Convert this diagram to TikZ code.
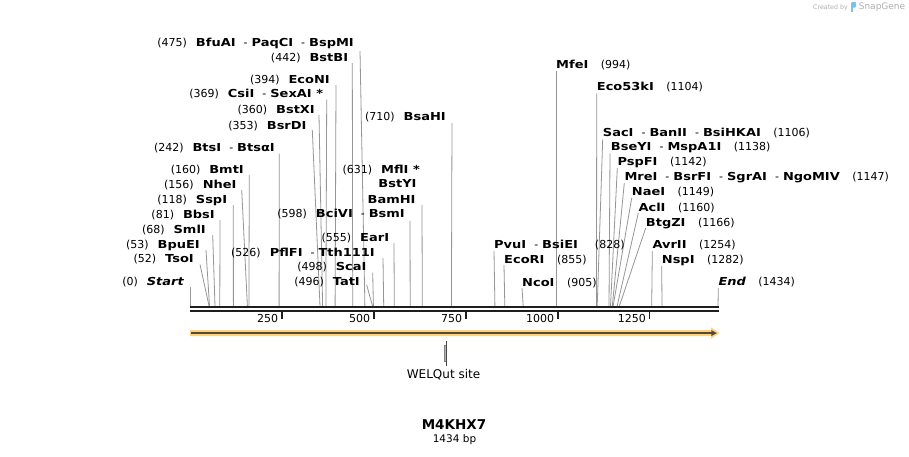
\documentclass[tikz,border=0pt]{standalone}
\usepackage{fontspec}
\setmainfont{DejaVu Sans}
\newfontfamily\bnmfont{DejaVu Sans}[FakeStretch=1.18]
\usetikzlibrary{arrows.meta}
\definecolor{cutgray}{RGB}{150,150,150}
\definecolor{seqblack}{RGB}{30,30,30}
\definecolor{orfglow}{RGB}{255,210,125}
\definecolor{orfdark}{RGB}{85,72,55}
\definecolor{welqfill}{RGB}{214,160,200}
\definecolor{welqline}{RGB}{70,70,70}
\definecolor{markgray}{RGB}{175,175,175}
\definecolor{logoblue}{RGB}{125,192,238}
\newcommand{\nm}[1]{{\bnmfont\bfseries #1}}
\newcommand{\dsep}{\hspace{8pt}-\hspace{4pt}}
\newcommand{\gapL}{\hspace{9pt}}
\newcommand{\gapR}{\hspace{12.5pt}}
\begin{document}
\begin{tikzpicture}[x=1pt,y=-1pt,
  lbl/.style={inner sep=0pt,font=\fontsize{11}{13}\selectfont},
  lblL/.style={lbl,anchor=base east},
  lblR/.style={lbl,anchor=base west},
  cut/.style={draw=cutgray,line width=0.8pt}]
\fill[white] (0,0) rectangle (909,456);
\useasboundingbox (0,0) rectangle (909,456);

% cut-site connectors
\foreach \n/\tx/\ty/\sx in {475/360/51/364.9, 442/352.3/63/352.7, 394/336/85/335.1,
  369/326.7/99.5/325.9, 360/319/115/322.6, 353/312.3/130/320.0, 242/279.3/153.5/279.1,
  160/249.3/175/248.9, 156/241.7/190/247.4, 118/233.3/205/233.4, 81/220/220/219.8,
  68/212.7/235/215.0, 53/206/250/209.5, 52/200/264.5/209.1, 0/190/287/190,
  526/383/258/383.7, 598/410/220.5/410.2, 555/394/243/394.3, 498/372.7/272.5/373.4,
  496/366.7/285/372.6, 631/422/205/422.3, 710/452/123/451.4,
  994/556/70.5/556, 1104/596.7/93.3/596.5, 1106/602.7/139.3/597.2, 1138/610/153.3/609.0,
  1142/617.3/168/610.5, 1147/624.3/183/612.3, 1149/631.7/198/613.1, 1160/638.3/213/617.1,
  1166/645.7/228/619.3, 1254/652.3/251/651.7, 1282/661.7/266/662.0, 1434/718.3/288/718,
  828/494/251/494.9, 855/504/265/504.8, 905/522/288/523.2}{
  \coordinate (t\n) at (\tx,\ty);
  \coordinate (s\n) at (\sx,306.2);
  \draw[cut] (t\n) -- (s\n);
}

% left-hand labels
\node[lblL] (l475) at (354,46.3) {(475)\gapL\nm{BfuAI}\dsep\nm{PaqCI}\dsep\nm{BspMI}};
\node[lblL] (l442) at (348.3,61.3) {(442)\gapL\nm{BstBI}};
\node[lblL] (l394) at (330,83.3) {(394)\gapL\nm{EcoNI}};
\node[lblL] (l369) at (323.3,97.3) {(369)\gapL\nm{CsiI}\dsep\nm{SexAI *}};
\node[lblL] (l360) at (315,113.3) {(360)\gapL\nm{BstXI}};
\node[lblL] (l353) at (306.7,129) {(353)\gapL\nm{BsrDI}};
\node[lblL] (l242) at (275,151.3) {(242)\gapL\nm{BtsI}\dsep\nm{BtsαI}};
\node[lblL] (l160) at (244,173) {(160)\gapL\nm{BmtI}};
\node[lblL] (l156) at (236.7,188) {(156)\gapL\nm{NheI}};
\node[lblL] (l118) at (227.3,203) {(118)\gapL\nm{SspI}};
\node[lblL] (l81) at (215,218) {(81)\gapL\nm{BbsI}};
\node[lblL] (l68) at (206,233) {(68)\gapL\nm{SmlI}};
\node[lblL] (l53) at (200,248.3) {(53)\gapL\nm{BpuEI}};
\node[lblL] (l52) at (194,262.3) {(52)\gapL\nm{TsoI}};
\node[lblL] (l0) at (184,285.7) {(0)\gapL\nm{\itshape Start}};
\node[lblL] (l526) at (375,256.3) {(526)\gapL\nm{PflFI}\dsep\nm{Tth111I}};
\node[lblL] (l598) at (405,217.3) {(598)\gapL\nm{BciVI}\dsep\nm{BsmI}};
\node[lblL] (l555) at (389.3,241.3) {(555)\gapL\nm{EarI}};
\node[lblL] (l498) at (366.7,270.7) {(498)\gapL\nm{ScaI}};
\node[lblL] (l496) at (360,285.7) {(496)\gapL\nm{TatI}};
\node[lblL] (l631a) at (420,173) {(631)\gapL\nm{MflI *}};
\node[lblL] (l631b) at (416.7,187.3) {\nm{BstYI}};
\node[lblL] (l631c) at (415.7,203) {\nm{BamHI}};
\node[lblL] (l710) at (446,120) {(710)\gapL\nm{BsaHI}};

% right-hand labels
\node[lblR] (r994) at (556,68) {\nm{MfeI}\gapR(994)};
\node[lblR] (r1104) at (596.7,90.7) {\nm{Eco53kI}\gapR(1104)};
\node[lblR] (r1106) at (602.7,136.7) {\nm{SacI}\dsep\nm{BanII}\dsep\nm{BsiHKAI}\gapR(1106)};
\node[lblR] (r1138) at (610.7,150.7) {\nm{BseYI}\dsep\nm{MspA1I}\gapR(1138)};
\node[lblR] (r1142) at (617.3,165.7) {\nm{PspFI}\gapR(1142)};
\node[lblR] (r1147) at (624.3,180.7) {\nm{MreI}\dsep\nm{BsrFI}\dsep\nm{SgrAI}\dsep\nm{NgoMIV}\gapR(1147)};
\node[lblR] (r1149) at (631.7,195.7) {\nm{NaeI}\gapR(1149)};
\node[lblR] (r1160) at (638.3,211.3) {\nm{AclI}\gapR(1160)};
\node[lblR] (r1166) at (645.7,226.3) {\nm{BtgZI}\gapR(1166)};
\node[lblR] (r1254) at (652.3,248) {\nm{AvrII}\gapR(1254)};
\node[lblR] (r1282) at (661.7,263.3) {\nm{NspI}\gapR(1282)};
\node[lblR] (r1434) at (718.3,285.7) {\nm{\itshape End}\gapR(1434)};
\node[lblR] (r828) at (494,248) {\nm{PvuI}\dsep\nm{BsiEI}\hspace{17pt}(828)};
\node[lblR] (r855) at (504,263) {\nm{EcoRI}\gapR(855)};
\node[lblR] (r905) at (522,286) {\nm{NcoI}\gapR(905)};

% sequence (double line)
\coordinate (seqA) at (190,307.2); \coordinate (seqB) at (718.7,307.2);
\coordinate (seqC) at (190,311.2); \coordinate (seqD) at (718.7,311.2);
\draw[seqblack,line width=2.3pt] (seqA) -- (seqB);
\draw[seqblack,line width=2.3pt] (seqC) -- (seqD);

% ticks
\foreach \v/\tx in {250/281.9,500/373.9,750/465.7,1000/557.8,1250/649.6}{
  \draw[seqblack,line width=1.6pt] (\tx,312) -- (\tx,319.3);
  \node[lbl,anchor=east] (tk\v) at (\tx-3.5,318.7) {\v};
}

% feature arrow
\fill[orfglow] (190,330) -- (711,330) -- (711,327.3) -- (719.3,333) -- (711,338.7) -- (711,336) -- (190,336) -- cycle;
\draw[orfdark,line width=1.8pt] (191,333.1) -- (712,333.1);
\fill[orfdark] (711.3,330.2) -- (716.8,333.1) -- (711.3,336) -- cycle;

% WELQut site
\filldraw[fill=welqfill,draw=gray,line width=0.6pt] (444,345) rectangle (446.5,361);
\draw[welqline,line width=0.9pt] (446.7,340.7) -- (446.7,365.7);
\node[inner sep=0pt,font=\fontsize{12}{14}\selectfont] (welq) at (443.5,375) {WELQut site};

% title
\node[inner sep=0pt,font=\bfseries\fontsize{13.5}{16}\selectfont] (title) at (454,425) {M4KHX7};
\node[inner sep=0pt,font=\fontsize{10.5}{12}\selectfont] (len) at (454.5,440) {1434 bp};

% watermark
\node[inner sep=0pt,text=markgray,font=\fontsize{6.3}{7}\selectfont] (cby) at (830.5,7.5) {Created by};
\fill[logoblue,rounded corners=1.2pt] (851,2) rectangle (856.2,7.5);
\fill[logoblue] (851,5) rectangle (853.4,12);
\node[inner sep=0pt,text=markgray,font=\fontsize{9}{10}\selectfont] (sg) at (882,7) {SnapGene};
\end{tikzpicture}
\end{document}
